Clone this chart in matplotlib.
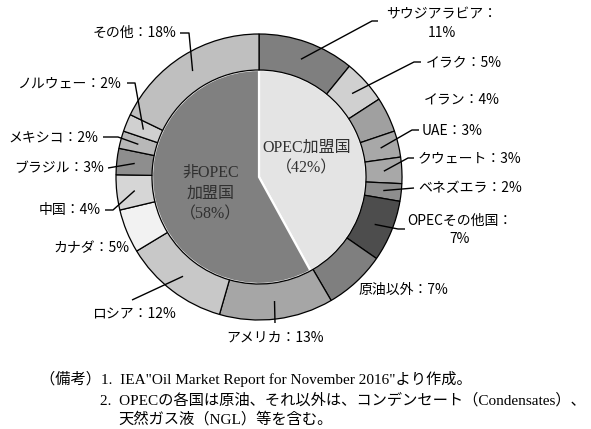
import numpy as np
import matplotlib
matplotlib.use("Agg")
import matplotlib.pyplot as plt

# inner ring: OPEC / non-OPEC share (%)
inner_labels = ["OPEC加盟国\n（42%）", "非OPEC\n加盟国\n（58%）"]
inner_values = [42, 58]

# outer ring, clockwise from the top (%)
outer_names = ["サウジアラビア", "イラク", "イラン", "UAE", "クウェート", "ベネズエラ",
               "OPECその他国", "原油以外", "アメリカ", "ロシア", "カナダ", "中国",
               "ブラジル", "メキシコ", "ノルウェー", "その他"]
outer_values = [11, 5, 4, 3, 3, 2, 7, 7, 13, 12, 5, 4, 3, 2, 2, 18]

notes = [
    "（備考）1.  IEA\"Oil Market Report for November 2016\"より作成。",
    "2.  OPECの各国は原油、それ以外は、コンデンセート（Condensates）、",
    "天然ガス液（NGL）等を含む。",
]

inner_colors = ["#e4e4e4", "#808080"]
outer_colors = ["#7f7f7f", "#d0d0d0", "#a0a0a0", "#a8a8a8", "#a8a8a8", "#8e8e8e",
                "#4d4d4d", "#7f7f7f", "#a6a6a6", "#c8c8c8", "#f2f2f2", "#d6d6d6",
                "#8e8e8e", "#b8b8b8", "#d0d0d0", "#bfbfbf"]

# label layout: text position (pixels), alignment, leader polyline end points
label_layout = {
    "サウジアラビア": dict(xy=(442, 24), ha="center", text="サウジアラビア：\n11%", path=[(372, 21), (378, 21)]),
    "イラク": dict(xy=(426, 62), ha="left", path=[(414, 62), (421, 62)]),
    "イラン": dict(xy=(424, 99), ha="left", path=None),
    "UAE": dict(xy=(422, 131), ha="left", path=[(412, 130), (419, 130)]),
    "クウェート": dict(xy=(418, 158), ha="left", path=[(408, 158), (414, 158)]),
    "ベネズエラ": dict(xy=(418, 188), ha="left", path=[(414, 188)]),
    "OPECその他国": dict(xy=(460, 230), ha="center", text="OPECその他国：\n7%", path=[(398, 229), (405, 229)]),
    "原油以外": dict(xy=(359, 290), ha="left", path=None),
    "アメリカ": dict(xy=(275, 338), ha="center", path=[(275, 323)]),
    "ロシア": dict(xy=(176, 314), ha="right", path=[(132, 300)]),
    "カナダ": dict(xy=(129, 248), ha="right", path=None),
    "中国": dict(xy=(101, 210), ha="right", path=[(113, 210), (105, 210)]),
    "ブラジル": dict(xy=(104, 168), ha="right", path=[(108, 168)]),
    "メキシコ": dict(xy=(98, 137), ha="right", path=[(118, 137), (103, 137)]),
    "ノルウェー": dict(xy=(121, 84), ha="right", path=[(135, 83), (127, 83)]),
    "その他": dict(xy=(176, 33), ha="right", path=[(189, 33), (180, 33)]),
}

W, H = 591, 429
cx, cy = 259, 177
r_out, r_in = 143, 107

plt.rcParams["font.family"] = ["Noto Sans CJK JP", "DejaVu Sans"]

fig = plt.figure(figsize=(W / 100, H / 100), dpi=100)
ax = fig.add_axes([0, 0, 1, 1])

# y axis is inverted, so counterclock in data space is clockwise on screen
ax.pie(inner_values, colors=inner_colors, radius=r_in, center=(cx, cy),
       startangle=-90, counterclock=True,
       wedgeprops=dict(edgecolor="white", linewidth=1.6))
ax.pie(outer_values, colors=outer_colors, radius=r_out, center=(cx, cy),
       startangle=-90, counterclock=True,
       wedgeprops=dict(width=r_out - r_in, edgecolor="black", linewidth=0.9))

ax.set_xlim(0, W)
ax.set_ylim(H, 0)
ax.set_aspect("equal")
ax.axis("off")

# labels and leader lines
total = sum(outer_values)
cum = np.cumsum(outer_values) - np.array(outer_values) / 2
r_mid = (r_out + r_in) / 2
for name, val, c in zip(outer_names, outer_values, cum):
    lay = label_layout[name]
    text = lay.get("text", f"{name}：{val}%")
    ax.text(lay["xy"][0], lay["xy"][1], text, ha=lay["ha"], va="center",
            fontsize=10, color="black", linespacing=1.4)
    if lay["path"]:
        ang = np.deg2rad(-90 + c / total * 360)
        sx, sy = cx + r_mid * np.cos(ang), cy + r_mid * np.sin(ang)
        xs = [sx] + [p[0] for p in lay["path"]]
        ys = [sy] + [p[1] for p in lay["path"]]
        ax.plot(xs, ys, color="black", linewidth=1.0, solid_capstyle="butt")

serif = ["Liberation Serif", "Noto Sans CJK JP"]
ax.text(307, 158, inner_labels[0], ha="center", va="center", fontsize=11.5,
        color="#303030", family=serif, linespacing=1.4)
ax.text(211, 194, inner_labels[1], ha="center", va="center", fontsize=11.5,
        color="#303030", family=serif, linespacing=1.4)

ax.text(40, 379, notes[0], ha="left", va="center", fontsize=11, family=serif)
ax.text(100, 400, notes[1], ha="left", va="center", fontsize=11, family=serif)
ax.text(118, 419, notes[2], ha="left", va="center", fontsize=11, family=serif)

fig.savefig("out.png", dpi=100)
